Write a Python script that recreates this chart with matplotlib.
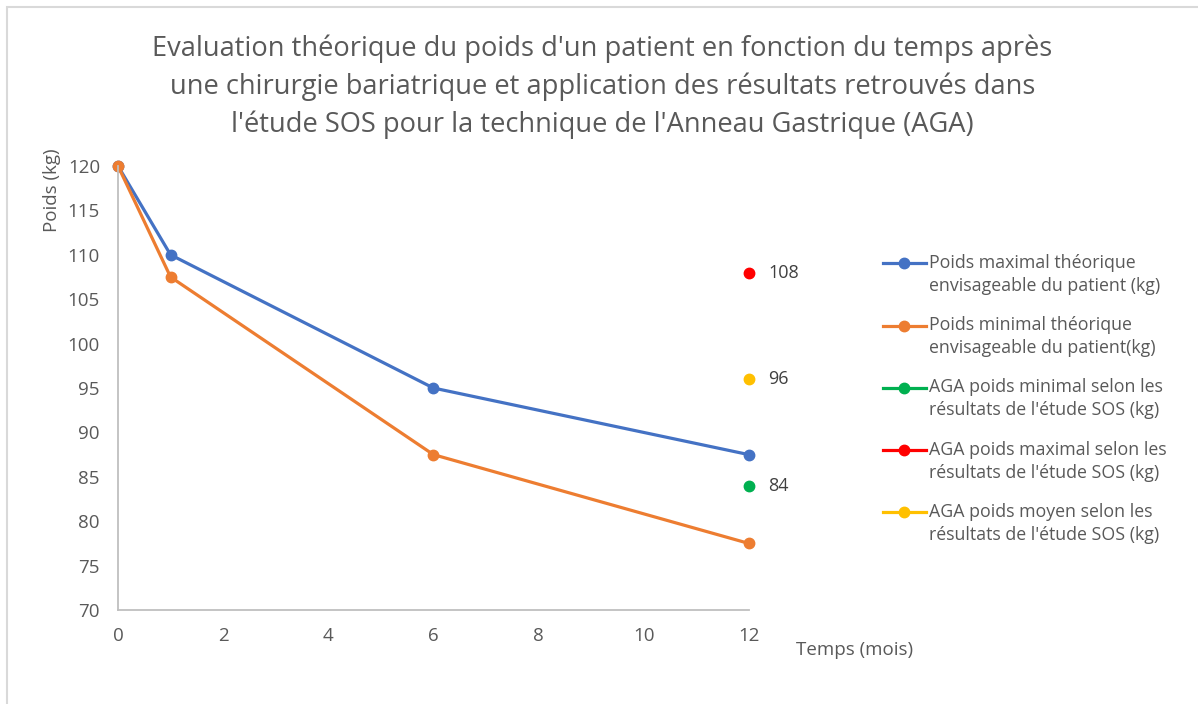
import matplotlib.pyplot as plt
from matplotlib.patches import Rectangle
from matplotlib.legend_handler import HandlerLine2D

plt.rcParams['font.family'] = ['Open Sans', 'DejaVu Sans']

mois = [0, 1, 6, 12]
poids_max = [120, 110, 95, 87.5]
poids_min = [120, 107.5, 87.5, 77.5]
aga_mois = 12
aga_min = 84
aga_max = 108
aga_moyen = 96

grey = '#595959'


# symbole de légende aligné sur la première ligne du texte
class HandlerPremiereLigne(HandlerLine2D):
    def create_artists(self, legend, orig_handle, xdescent, ydescent,
                       width, height, fontsize, trans):
        artists = super().create_artists(legend, orig_handle, xdescent, ydescent,
                                         width, height, fontsize, trans)
        for a in artists:
            a.set_ydata([y + 0.67 * fontsize for y in a.get_ydata()])
        return artists


fig = plt.figure(figsize=(11.98, 7.04), dpi=100)
ax = fig.add_axes([0.0985, 0.1335, 0.5265, 0.6307])

# cadre du graphique (bord gauche et haut visibles)
fig.patches.append(Rectangle((7 / 1198, -0.1), 1.2, 1 - 7 / 704 + 0.1,
                             transform=fig.transFigure, fill=False,
                             edgecolor='#D9D9D9', linewidth=1.5))

ax.plot(mois, poids_max, color='#4472C4', lw=2.3, marker='o', ms=7.5,
        label="Poids maximal théorique\nenvisageable du patient (kg)")
ax.plot(mois, poids_min, color='#ED7D31', lw=2.3, marker='o', ms=7.5,
        label="Poids minimal théorique\nenvisageable du patient(kg)")
ax.plot([aga_mois], [aga_min], color='#00B050', lw=2.3, marker='o', ms=7.5,
        label="AGA poids minimal selon les\nrésultats de l'étude SOS (kg)")
ax.plot([aga_mois], [aga_max], color='#FF0000', lw=2.3, marker='o', ms=7.5,
        label="AGA poids maximal selon les\nrésultats de l'étude SOS (kg)")
ax.plot([aga_mois], [aga_moyen], color='#FFC000', lw=2.3, marker='o', ms=7.5,
        label="AGA poids moyen selon les\nrésultats de l'étude SOS (kg)")

for v in [aga_max, aga_moyen, aga_min]:
    ax.annotate(str(v), (aga_mois, v), xytext=(14, 0), textcoords='offset points',
                va='center', ha='left', fontsize=13, color='#404040')

ax.set_xlim(0, 12)
ax.set_ylim(70, 120)
ax.set_xticks(range(0, 13, 2))
ax.set_yticks(range(70, 121, 5))
ax.tick_params(length=0, labelsize=13.5, labelcolor=grey)
ax.tick_params(axis='y', pad=13)
ax.tick_params(axis='x', pad=12)
for s in ['top', 'right']:
    ax.spines[s].set_visible(False)
for s in ['left', 'bottom']:
    ax.spines[s].set_color('#BFBFBF')
    ax.spines[s].set_linewidth(1.3)
for ln in ax.lines:
    ln.set_clip_on(False)

fig.text(52 / 1198, 1 - 148 / 704, 'Poids (kg)', rotation=90, ha='center', va='top',
         fontsize=13.5, color=grey)
fig.text(855 / 1198, 1 - 650 / 704, 'Temps (mois)', ha='center', va='center',
         fontsize=13.5, color=grey)

fig.text(0.503, 1 - 87 / 704,
         "Evaluation théorique du poids d'un patient en fonction du temps après\n"
         "une chirurgie bariatrique et application des résultats retrouvés dans\n"
         "l'étude SOS pour la technique de l'Anneau Gastrique (AGA)",
         ha='center', va='center', fontsize=19.6, color=grey, linespacing=1.45)

leg = fig.legend(loc='upper left', bbox_to_anchor=(867 / 1198, 1 - 238 / 704),
                 frameon=False, fontsize=12.8, labelcolor=grey, handlelength=2.4,
                 handletextpad=0.2, labelspacing=1.2,
                 handler_map={type(ax.lines[0]): HandlerPremiereLigne()})
for t in leg.get_texts():
    t.set_linespacing(1.35)

fig.savefig('out.png', dpi=100)
